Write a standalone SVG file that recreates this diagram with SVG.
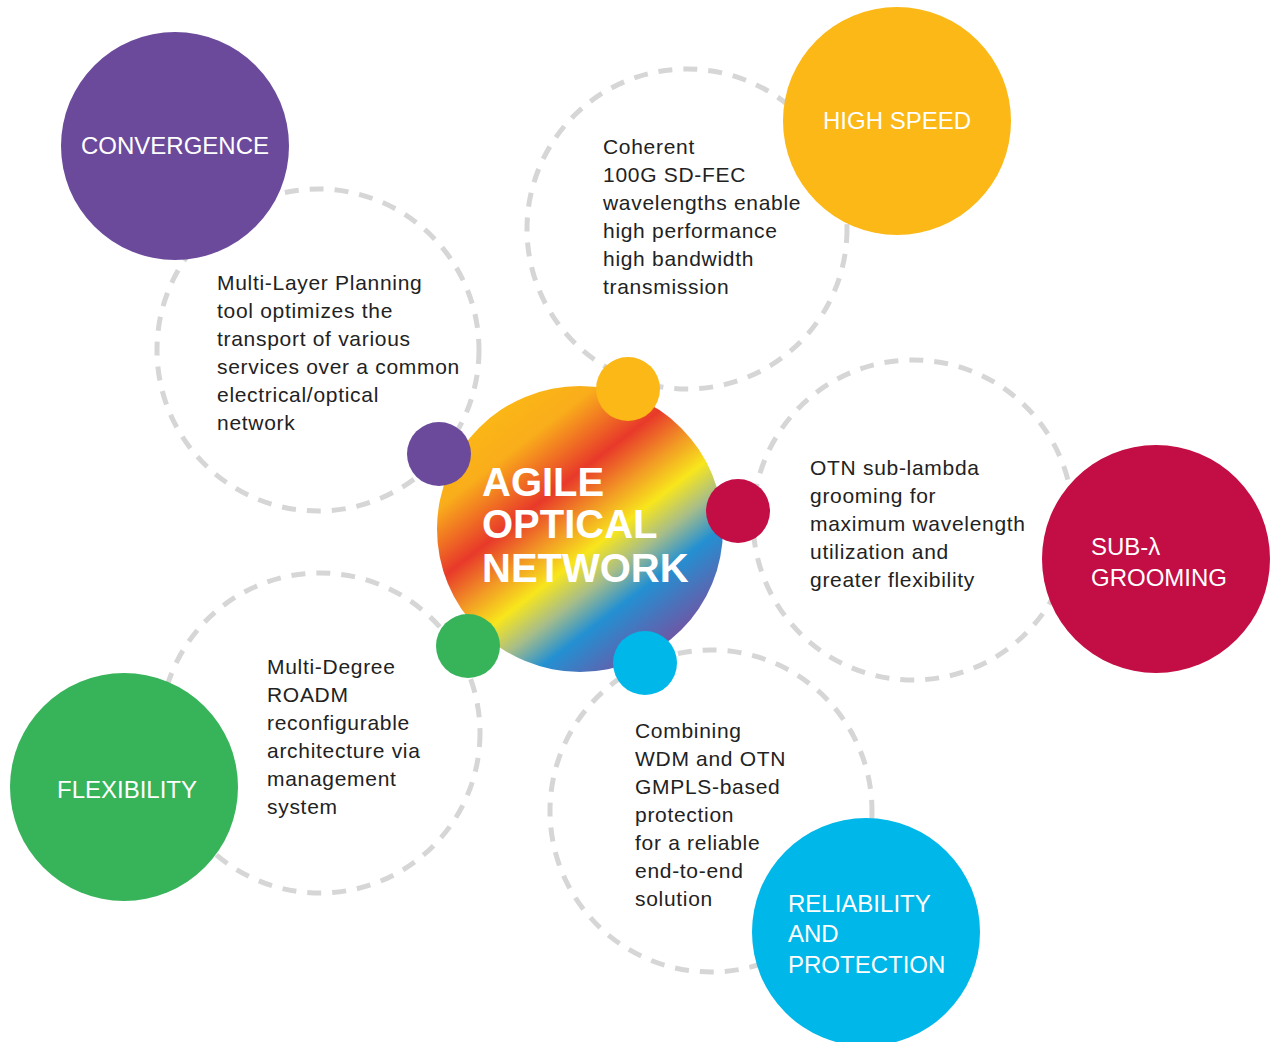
<svg xmlns="http://www.w3.org/2000/svg" width="1273" height="1042" viewBox="0 0 1273 1042">
<style>
.ring{fill:none;stroke:#d6d6d6;stroke-width:5;stroke-dasharray:14 11}
.body{font-family:"Liberation Sans",Arial,sans-serif;font-size:21px;letter-spacing:0.7px;fill:#222}
.title{font-family:"Liberation Sans",Arial,sans-serif;font-size:24px;fill:#fff}
.center{font-family:"Liberation Sans",Arial,sans-serif;font-size:40px;font-weight:bold;fill:#fff}
</style>
<defs>
<linearGradient id="rainbow" gradientUnits="userSpaceOnUse" x1="493" y1="416" x2="667" y2="642">
<stop offset="0" stop-color="#fbb616"/>
<stop offset="0.14" stop-color="#f9ad1b"/>
<stop offset="0.34" stop-color="#e8392a"/>
<stop offset="0.47" stop-color="#f29a25"/>
<stop offset="0.58" stop-color="#f8e61c"/>
<stop offset="0.69" stop-color="#a6bd8a"/>
<stop offset="0.80" stop-color="#2390d2"/>
<stop offset="1" stop-color="#6d58a6"/>
</linearGradient>
</defs>
<rect width="1273" height="1042" fill="#fff"/>
<g id="rings">
<circle class="ring" cx="318" cy="350" r="161"/>
<circle class="ring" cx="687" cy="229" r="160"/>
<circle class="ring" cx="913" cy="520" r="160"/>
<circle class="ring" cx="320" cy="733" r="160"/>
<circle class="ring" cx="711" cy="811" r="161"/>
</g>
<g id="convergence-text">
<text class="body" x="217" y="290">Multi-Layer Planning</text>
<text class="body" x="217" y="318">tool optimizes the</text>
<text class="body" x="217" y="346">transport of various</text>
<text class="body" x="217" y="374">services over a common</text>
<text class="body" x="217" y="402">electrical/optical</text>
<text class="body" x="217" y="430">network</text>
</g>
<g id="highspeed-text">
<text class="body" x="603" y="154">Coherent</text>
<text class="body" x="603" y="182">100G SD-FEC</text>
<text class="body" x="603" y="210">wavelengths enable</text>
<text class="body" x="603" y="238">high performance</text>
<text class="body" x="603" y="266">high bandwidth</text>
<text class="body" x="603" y="294">transmission</text>
</g>
<g id="grooming-text">
<text class="body" x="810" y="475">OTN sub-lambda</text>
<text class="body" x="810" y="503">grooming for</text>
<text class="body" x="810" y="531">maximum wavelength</text>
<text class="body" x="810" y="559">utilization and</text>
<text class="body" x="810" y="587">greater flexibility</text>
</g>
<g id="flexibility-text">
<text class="body" x="267" y="674">Multi-Degree</text>
<text class="body" x="267" y="702">ROADM</text>
<text class="body" x="267" y="730">reconfigurable</text>
<text class="body" x="267" y="758">architecture via</text>
<text class="body" x="267" y="786">management</text>
<text class="body" x="267" y="814">system</text>
</g>
<g id="reliability-text">
<text class="body" x="635" y="738">Combining</text>
<text class="body" x="635" y="766">WDM and OTN</text>
<text class="body" x="635" y="794">GMPLS-based</text>
<text class="body" x="635" y="822">protection</text>
<text class="body" x="635" y="850">for a reliable</text>
<text class="body" x="635" y="878">end-to-end</text>
<text class="body" x="635" y="906">solution</text>
</g>
<g id="convergence">
<circle cx="175" cy="146" r="114" fill="#6b4a9c"/>
<text class="title" x="175" y="154" text-anchor="middle">CONVERGENCE</text>
</g>
<g id="high-speed">
<circle cx="897" cy="121" r="114" fill="#fbb817"/>
<text class="title" x="897" y="129" text-anchor="middle">HIGH SPEED</text>
</g>
<g id="sub-lambda-grooming">
<circle cx="1156" cy="559" r="114" fill="#c30d45"/>
<text class="title" x="1091" y="555">SUB-λ</text>
<text class="title" x="1091" y="586">GROOMING</text>
</g>
<g id="flexibility">
<circle cx="124" cy="787" r="114" fill="#37b35a"/>
<text class="title" x="127" y="798" text-anchor="middle">FLEXIBILITY</text>
</g>
<g id="reliability">
<circle cx="866" cy="932" r="114" fill="#00b7e9"/>
<text class="title" x="788" y="912">RELIABILITY</text>
<text class="title" x="788" y="942">AND</text>
<text class="title" x="788" y="973">PROTECTION</text>
</g>
<g id="agile-optical-network">
<circle cx="580" cy="529" r="143" fill="url(#rainbow)"/>
<text class="center" x="482" y="496">AGILE</text>
<text class="center" x="482" y="538">OPTICAL</text>
<text class="center" x="482" y="582">NETWORK</text>
</g>
<g id="dots">
<circle cx="628" cy="389" r="32" fill="#fbb817"/>
<circle cx="439" cy="454" r="32" fill="#6b4a9c"/>
<circle cx="738" cy="511" r="32" fill="#c30d45"/>
<circle cx="468" cy="646" r="32" fill="#37b35a"/>
<circle cx="645" cy="663" r="32" fill="#00b7e9"/>
</g>
</svg>
